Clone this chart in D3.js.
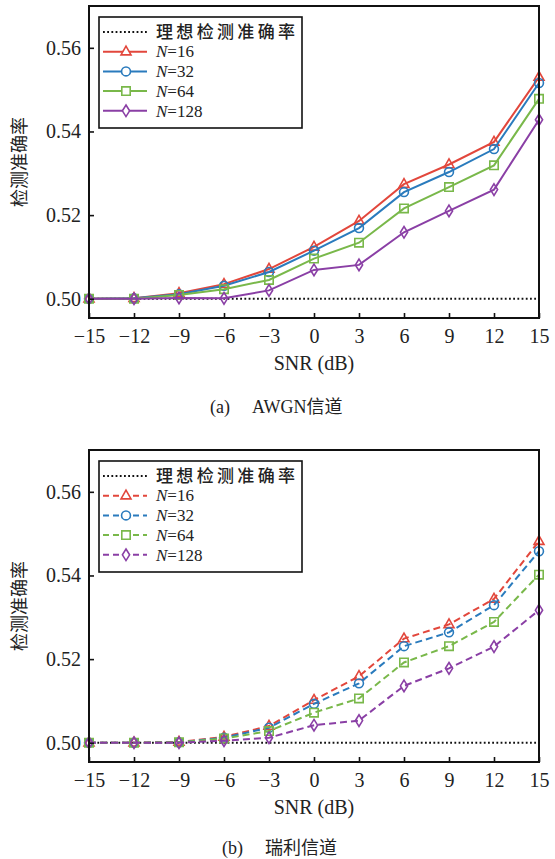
<!DOCTYPE html>
<html>
<head>
<meta charset="utf-8">
<script src="https://cdn.jsdelivr.net/npm/d3@7"></script>
<style>
  html, body { margin: 0; padding: 0; background: #fff; }
  svg { display: block; }
</style>
</head>
<body>
<svg id="fig" width="555" height="859"></svg>
<script>
// SNR sweep (dB)
const snr = [-15, -12, -9, -6, -3, 0, 3, 6, 9, 12, 15];
const xTicks = [-15, -12, -9, -6, -3, 0, 3, 6, 9, 12, 15];
const yTicks = [0.50, 0.52, 0.54, 0.56];
const idealAccuracy = 0.5;

// AWGN channel: detection accuracy per sequence length N
const awgnN16  = [0.5000, 0.5001, 0.5013, 0.5035, 0.5071, 0.5124, 0.5186, 0.5274, 0.5321, 0.5375, 0.5530];
const awgnN32  = [0.5000, 0.5001, 0.5011, 0.5031, 0.5064, 0.5115, 0.5169, 0.5255, 0.5303, 0.5358, 0.5516];
const awgnN64  = [0.5000, 0.5000, 0.5009, 0.5023, 0.5045, 0.5096, 0.5134, 0.5216, 0.5267, 0.5319, 0.5478];
const awgnN128 = [0.5000, 0.5000, 0.5002, 0.5001, 0.5020, 0.5069, 0.5081, 0.5159, 0.5210, 0.5261, 0.5428];

// Rayleigh channel
const rayN16  = [0.5000, 0.5000, 0.5002, 0.5014, 0.5040, 0.5102, 0.5159, 0.5249, 0.5283, 0.5344, 0.5482];
const rayN32  = [0.5000, 0.5000, 0.5001, 0.5012, 0.5036, 0.5093, 0.5142, 0.5231, 0.5264, 0.5329, 0.5458];
const rayN64  = [0.5000, 0.5000, 0.5001, 0.5010, 0.5028, 0.5072, 0.5106, 0.5192, 0.5231, 0.5289, 0.5402];
const rayN128 = [0.5000, 0.5000, 0.5000, 0.5005, 0.5012, 0.5042, 0.5053, 0.5136, 0.5178, 0.5230, 0.5317];

const seriesNames = ["16", "32", "64", "128"];
const seriesColors = ["#e2473c", "#2a7bbd", "#79b84a", "#8a3fa5"];
const seriesShapes = ["triangle", "circle", "square", "diamond"];

const SERIF = "'Liberation Serif', 'Times New Roman', serif";
const CJK = "'Noto Sans CJK SC', sans-serif";

const svg = d3.select("#fig");

function markerPath(shape) {
  switch (shape) {
    case "triangle": return "M0,-5.6L5,3.2L-5,3.2Z";
    case "circle": return d3.symbol(d3.symbolCircle, 62)();
    case "square": return "M-4.2,-4.2H4.2V4.2H-4.2Z";
    case "diamond": return "M0,-5.8L3.6,0L0,5.8L-3.6,0Z";
  }
}

function drawPanel(opts) {
  const left = 89, right = 539, top = opts.top, bottom = opts.top + 312;
  const x = d3.scaleLinear().domain([-15, 15]).range([left, right]);
  const y = d3.scaleLinear().domain([0.4954, 0.5700]).range([bottom, top]);
  const g = svg.append("g");

  // ideal accuracy reference
  g.append("line")
    .attr("x1", x(-15)).attr("x2", x(15))
    .attr("y1", y(idealAccuracy)).attr("y2", y(idealAccuracy))
    .attr("stroke", "#111").attr("stroke-width", 2.2)
    .attr("stroke-dasharray", "1.8,2.4");

  const line = d3.line().x((d, i) => x(snr[i])).y(d => y(d));
  opts.series.forEach((vals, k) => {
    g.append("path")
      .attr("d", line(vals))
      .attr("fill", "none")
      .attr("stroke", seriesColors[k])
      .attr("stroke-width", 2)
      .attr("stroke-dasharray", opts.dash || null);
    g.selectAll(null).data(vals).enter().append("path")
      .attr("d", markerPath(seriesShapes[k]))
      .attr("transform", (d, i) => `translate(${x(snr[i])},${y(d)})`)
      .attr("fill", "none")
      .attr("stroke", seriesColors[k])
      .attr("stroke-width", 1.6);
  });

  // axes with inward ticks
  const xAxis = d3.axisBottom(x).tickValues(xTicks).tickSizeInner(-5).tickSizeOuter(0)
    .tickPadding(9).tickFormat(d => d < 0 ? "\u2212" + Math.abs(d) : String(d));
  const ga = g.append("g").attr("transform", `translate(0,${bottom})`).call(xAxis);
  const yAxis = d3.axisLeft(y).tickValues(yTicks).tickSizeInner(-5).tickSizeOuter(0)
    .tickPadding(8).tickFormat(d3.format(".2f"));
  const gy = g.append("g").attr("transform", `translate(${left},0)`).call(yAxis);
  [ga, gy].forEach(a => {
    a.select(".domain").remove();
    a.selectAll(".tick line").attr("stroke", "#111").attr("stroke-width", 1.6);
    a.selectAll(".tick text").attr("fill", "#222")
      .style("font-family", SERIF).style("font-size", "20px");
  });
  ga.selectAll(".tick text").attr("dy", "0.71em").attr("y", 11);

  // frame
  g.append("rect")
    .attr("x", left).attr("y", top).attr("width", right - left).attr("height", bottom - top)
    .attr("fill", "none").attr("stroke", "#111").attr("stroke-width", 2);

  // axis titles
  g.append("text")
    .attr("x", (left + right) / 2).attr("y", bottom + 52)
    .attr("text-anchor", "middle").attr("fill", "#222")
    .style("font-family", SERIF).style("font-size", "20px")
    .text("SNR (dB)");
  g.append("text")
    .attr("transform", `translate(26,${(top + bottom) / 2}) rotate(-90)`)
    .attr("text-anchor", "middle").attr("fill", "#222")
    .style("font-family", CJK).style("font-size", "18px")
    .text("检测准确率");

  // legend
  const lx = 99, ly = top + 11;
  const lg = g.append("g").attr("transform", `translate(${lx},${ly})`);
  lg.append("rect").attr("width", 203).attr("height", 111)
    .attr("fill", "#fff").attr("stroke", "#111").attr("stroke-width", 1.6);
  const rowY = i => 15 + i * 19.7;
  lg.append("line").attr("x1", 4).attr("x2", 48).attr("y1", rowY(0)).attr("y2", rowY(0))
    .attr("stroke", "#111").attr("stroke-width", 2.2).attr("stroke-dasharray", "1.8,2.4");
  lg.append("text").attr("x", 57).attr("y", rowY(0)).attr("dy", "0.36em").attr("fill", "#222")
    .style("font-family", CJK).style("font-size", "17px").style("font-weight", "500")
    .attr("textLength", 139).attr("lengthAdjust", "spacing")
    .text("理想检测准确率");
  seriesNames.forEach((n, k) => {
    const ry = rowY(k + 1);
    lg.append("line").attr("x1", 4).attr("x2", 48).attr("y1", ry).attr("y2", ry)
      .attr("stroke", seriesColors[k]).attr("stroke-width", 2)
      .attr("stroke-dasharray", opts.dash ? "6,4" : null);
    lg.append("path").attr("d", markerPath(seriesShapes[k]))
      .attr("transform", `translate(27,${ry})`)
      .attr("fill", "#fff").attr("stroke", seriesColors[k]).attr("stroke-width", 1.6);
    const t = lg.append("text").attr("x", 57).attr("y", ry).attr("dy", "0.34em").attr("fill", "#222")
      .style("font-family", SERIF).style("font-size", "17px");
    t.append("tspan").style("font-style", "italic").text("N");
    t.append("tspan").text("=" + n);
  });

  // caption
  const cap = svg.append("text").attr("x", opts.capX).attr("y", opts.capY).attr("fill", "#222")
    .attr("dy", "0.35em").style("font-size", "18px");
  cap.append("tspan").style("font-family", SERIF).text(opts.capTag);
  opts.capParts.forEach(p => {
    cap.append("tspan").attr("dx", p.dx || 0).style("font-family", p.cjk ? CJK : SERIF).text(p.text);
  });
}

drawPanel({
  top: 6,
  series: [awgnN16, awgnN32, awgnN64, awgnN128],
  dash: null,
  capX: 210, capY: 407, capTag: "(a)",
  capParts: [{ text: "AWGN", dx: 22 }, { text: "信道", cjk: true }]
});

drawPanel({
  top: 450,
  series: [rayN16, rayN32, rayN64, rayN128],
  dash: "7,4",
  capX: 222, capY: 848, capTag: "(b)",
  capParts: [{ text: "瑞利信道", dx: 22, cjk: true }]
});
</script>
</body>
</html>
